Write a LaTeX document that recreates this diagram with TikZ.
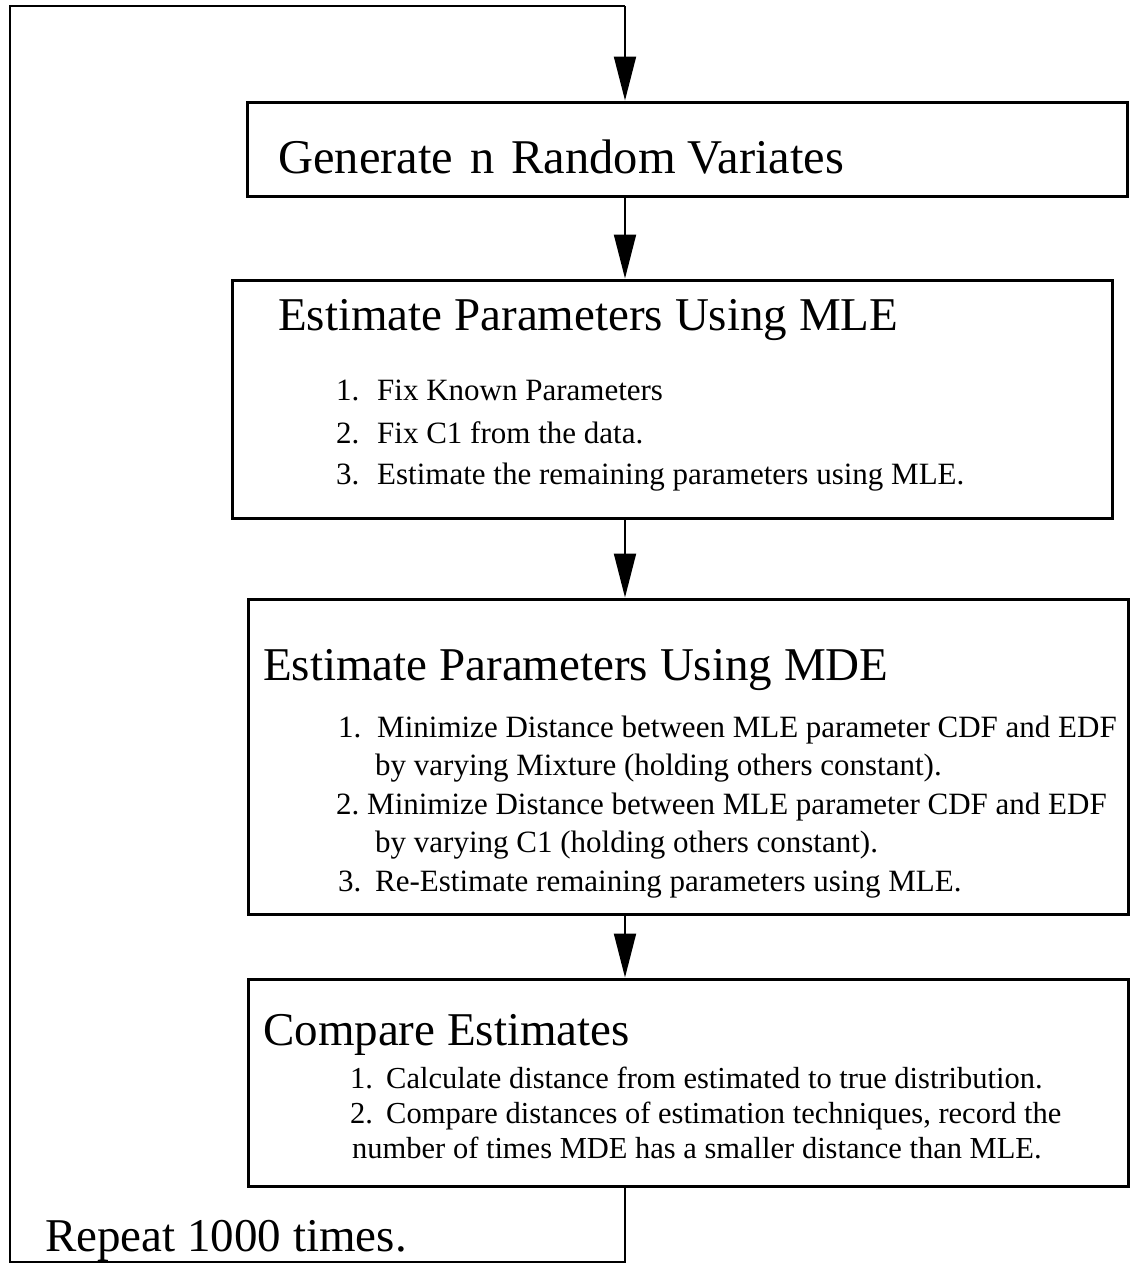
\documentclass[tikz,border=0pt]{standalone}
\usepackage{fontspec}
\setmainfont{Liberation Serif}
\usetikzlibrary{arrows.meta}
\newcommand{\titlefont}{\fontsize{47}{47}\selectfont}
\newcommand{\itemfont}{\fontsize{31}{31}\selectfont}
\newcommand{\itemfontc}{\fontsize{30.5}{30.5}\selectfont}
\begin{document}
\begin{tikzpicture}[x=1pt,y=-1pt,
  box/.style={draw,line width=3pt,minimum width=880pt,inner sep=0pt},
  conn/.style={line width=2pt},
  arr/.style={line width=2pt,-{Triangle[length=44pt,width=22pt]}},
  ttl/.style={anchor=base west,inner sep=0pt,font=\titlefont},
  itm/.style={anchor=base west,inner sep=0pt,font=\itemfont},
  itmc/.style={anchor=base west,inner sep=0pt,font=\itemfontc}]
\useasboundingbox (0,0) rectangle (1136,1266);
% boxes
\node[box,minimum height=94pt]  (b1) at (687,149) {};
\node[box,minimum height=238pt] (b2) at (672,399) {};
\node[box,minimum height=315pt] (b3) at (688,756.5) {};
\node[box,minimum height=207pt] (b4) at (688.5,1082.5) {};
% texts
\node[ttl,font=\fontsize{48.5}{48.5}\selectfont] (t1) at (278,173) {Generate\hspace{0.35em}n\hspace{0.35em}Random Variates};
\node[ttl] (t2) at (278,330) {Estimate Parameters Using MLE};
\node[itm] (n2a) at (336,400) {1.};
\node[itm] (t2a) at (377,400) {Fix Known Parameters};
\node[itm] (n2b) at (336,443) {2.};
\node[itm] (t2b) at (377,443) {Fix C1 from the data.};
\node[itm] (n2c) at (336,484) {3.};
\node[itm] (t2c) at (377,484) {Estimate the remaining parameters using MLE.};
\node[ttl] (t3) at (263,680) {Estimate Parameters Using MDE};
\node[itm] (n3a) at (338,737) {1.};
\node[itm] (t3a) at (377,737) {Minimize Distance between MLE parameter CDF and EDF};
\node[itm] (t3b) at (375,775) {by varying Mixture (holding others constant).};
\node[itm] (n3c) at (336,814) {2.};
\node[itm] (t3c) at (367,814) {Minimize Distance between MLE parameter CDF and EDF};
\node[itm] (t3d) at (375,852) {by varying C1 (holding others constant).};
\node[itm] (n3e) at (338,891) {3.};
\node[itm] (t3e) at (375,891) {Re-Estimate remaining parameters using MLE.};
\node[ttl] (t4) at (263,1045) {Compare Estimates};
\node[itmc] (n4a) at (350,1088) {1.};
\node[itmc] (t4a) at (386,1088) {Calculate distance from estimated to true distribution.};
\node[itmc] (n4b) at (350,1123) {2.};
\node[itmc] (t4b) at (386,1123) {Compare distances of estimation techniques, record the};
\node[itmc] (t4c) at (352,1158) {number of times MDE has a smaller distance than MLE.};
\node[ttl] (rep) at (45,1251) {Repeat 1000 times.};
% connectors
\coordinate (ax) at (625,0);
\coordinate (tl) at (10,6);
\coordinate (bl) at (10,1262);
\draw[arr] (b1.south -| ax) -- (b2.north -| ax);
\draw[arr] (b2.south -| ax) -- (b3.north -| ax);
\draw[arr] (b3.south -| ax) -- (b4.north -| ax);
\draw[conn] (b4.south -| ax) -- (ax |- bl) -- (bl) -- (tl) -- (ax |- tl);
\draw[arr] (ax |- tl) -- (b1.north -| ax);
\end{tikzpicture}
\end{document}
